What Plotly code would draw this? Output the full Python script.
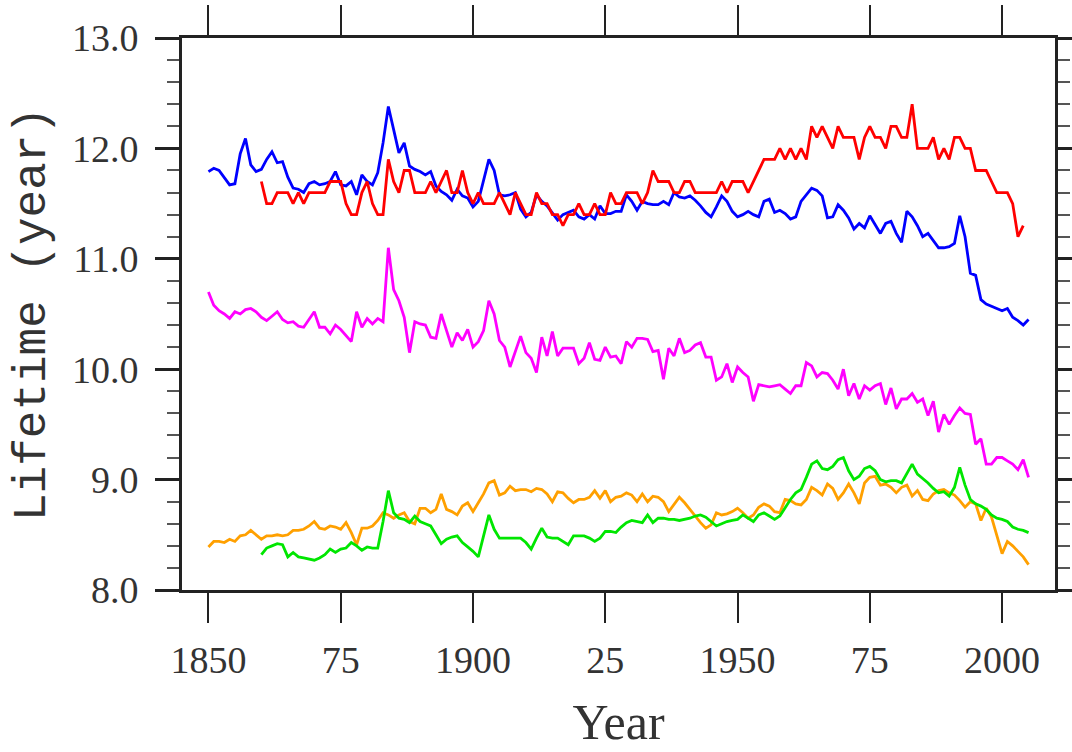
import plotly.graph_objects as go

years_a = list(range(1850, 2006))   # blue, magenta, orange
years_red = list(range(1860, 2005))
years_green = list(range(1860, 2006))

blue = [
    11.79, 11.82, 11.80, 11.74, 11.67, 11.68, 11.95, 12.09, 11.85, 11.79,
    11.81, 11.90, 11.97, 11.87, 11.88, 11.74, 11.64, 11.63, 11.60, 11.68,
    11.70, 11.67, 11.68, 11.70, 11.79, 11.67, 11.66, 11.70, 11.58, 11.76,
    11.70, 11.67, 11.78, 12.05, 12.38, 12.17, 11.96, 12.05, 11.84, 11.81,
    11.79, 11.76, 11.79, 11.66, 11.61, 11.58, 11.53, 11.63, 11.57, 11.55,
    11.47, 11.52, 11.72, 11.90, 11.80, 11.58, 11.57, 11.58, 11.60, 11.45,
    11.38, 11.42, 11.58, 11.52, 11.48, 11.42, 11.35, 11.40, 11.42, 11.44,
    11.38, 11.36, 11.40, 11.36, 11.48, 11.41, 11.41, 11.43, 11.43, 11.58,
    11.52, 11.44, 11.52, 11.50, 11.49, 11.49, 11.52, 11.49, 11.60, 11.56,
    11.55, 11.57, 11.53, 11.48, 11.42, 11.38, 11.47, 11.57, 11.52, 11.43,
    11.38, 11.40, 11.43, 11.40, 11.38, 11.52, 11.54, 11.42, 11.44, 11.41,
    11.36, 11.38, 11.52, 11.58, 11.64, 11.62, 11.57, 11.37, 11.38, 11.49,
    11.44, 11.37, 11.27, 11.32, 11.28, 11.39, 11.31, 11.23, 11.32, 11.34,
    11.23, 11.15, 11.43, 11.38, 11.30, 11.20, 11.23, 11.17, 11.10, 11.10,
    11.11, 11.14, 11.39, 11.20, 10.87, 10.85, 10.63, 10.59, 10.57, 10.55,
    10.53, 10.55, 10.47, 10.44, 10.40, 10.45,
]

red = [
    11.7, 11.5, 11.5, 11.6, 11.6, 11.6, 11.5, 11.6, 11.5, 11.6,
    11.6, 11.6, 11.6, 11.7, 11.7, 11.7, 11.5, 11.4, 11.4, 11.6,
    11.7, 11.5, 11.4, 11.4, 11.9, 11.7, 11.6, 11.8, 11.8, 11.6,
    11.6, 11.6, 11.7, 11.6, 11.7, 11.8, 11.6, 11.6, 11.8, 11.6,
    11.5, 11.6, 11.5, 11.5, 11.5, 11.6, 11.5, 11.4, 11.6, 11.5,
    11.4, 11.4, 11.6, 11.5, 11.5, 11.4, 11.4, 11.3, 11.4, 11.4,
    11.5, 11.4, 11.4, 11.5, 11.4, 11.4, 11.6, 11.5, 11.5, 11.6,
    11.6, 11.6, 11.5, 11.6, 11.8, 11.7, 11.7, 11.7, 11.6, 11.6,
    11.7, 11.7, 11.6, 11.6, 11.6, 11.6, 11.6, 11.7, 11.6, 11.7,
    11.7, 11.7, 11.6, 11.7, 11.8, 11.9, 11.9, 11.9, 12.0, 11.9,
    12.0, 11.9, 12.0, 11.9, 12.2, 12.1, 12.2, 12.1, 12.0, 12.2,
    12.1, 12.1, 12.1, 11.9, 12.1, 12.2, 12.1, 12.1, 12.0, 12.2,
    12.2, 12.1, 12.1, 12.4, 12.0, 12.0, 12.0, 12.1, 11.9, 12.0,
    11.9, 12.1, 12.1, 12.0, 12.0, 11.8, 11.8, 11.8, 11.7, 11.6,
    11.6, 11.6, 11.5, 11.2, 11.3,
]

magenta = [
    10.70, 10.58, 10.53, 10.50, 10.46, 10.52, 10.50, 10.54, 10.55, 10.52,
    10.47, 10.44, 10.48, 10.52, 10.45, 10.42, 10.43, 10.39, 10.38, 10.45,
    10.52, 10.38, 10.38, 10.32, 10.40, 10.36, 10.30, 10.25, 10.52, 10.38,
    10.46, 10.41, 10.46, 10.43, 11.10, 10.72, 10.62, 10.47, 10.15, 10.43,
    10.41, 10.40, 10.29, 10.28, 10.50, 10.36, 10.20, 10.33, 10.26, 10.36,
    10.20, 10.25, 10.35, 10.62, 10.50, 10.26, 10.20, 10.02, 10.17, 10.30,
    10.15, 10.10, 9.97, 10.29, 10.12, 10.34, 10.12, 10.19, 10.19, 10.19,
    10.05, 10.10, 10.24, 10.09, 10.08, 10.20, 10.11, 10.12, 10.05, 10.25,
    10.20, 10.28, 10.28, 10.27, 10.16, 10.17, 9.91, 10.19, 10.12, 10.28,
    10.15, 10.17, 10.22, 10.24, 10.11, 10.11, 9.90, 9.93, 10.05, 9.88,
    10.02, 9.97, 9.93, 9.71, 9.86, 9.85, 9.84, 9.85, 9.86, 9.82,
    9.78, 9.85, 9.85, 10.06, 10.03, 9.93, 9.97, 9.96, 9.90, 9.82,
    10.00, 9.76, 9.87, 9.73, 9.85, 9.81, 9.85, 9.87, 9.68, 9.83,
    9.64, 9.73, 9.73, 9.78, 9.70, 9.73, 9.58, 9.71, 9.43, 9.59,
    9.50, 9.58, 9.65, 9.60, 9.59, 9.32, 9.37, 9.14, 9.14, 9.20,
    9.20, 9.17, 9.14, 9.09, 9.18, 9.02,
]

orange = [
    8.39, 8.44, 8.44, 8.43, 8.46, 8.44, 8.49, 8.50, 8.54, 8.50,
    8.46, 8.49, 8.49, 8.50, 8.49, 8.50, 8.54, 8.54, 8.55, 8.58,
    8.62, 8.56, 8.55, 8.58, 8.57, 8.55, 8.61, 8.52, 8.41, 8.56,
    8.56, 8.58, 8.63, 8.70, 8.68, 8.65, 8.68, 8.70, 8.62, 8.60,
    8.74, 8.74, 8.70, 8.73, 8.87, 8.73, 8.71, 8.68, 8.76, 8.79,
    8.71, 8.79, 8.87, 8.97, 8.99, 8.86, 8.88, 8.94, 8.90, 8.91,
    8.91, 8.89, 8.92, 8.91, 8.87, 8.80, 8.89, 8.88, 8.83, 8.79,
    8.82, 8.82, 8.84, 8.90, 8.83, 8.90, 8.80, 8.84, 8.85, 8.88,
    8.86, 8.80, 8.87, 8.80, 8.85, 8.84, 8.80, 8.71, 8.78, 8.84,
    8.79, 8.73, 8.66, 8.61, 8.56, 8.59, 8.70, 8.68, 8.69, 8.71,
    8.74, 8.70, 8.65, 8.68, 8.75, 8.78, 8.76, 8.71, 8.70, 8.82,
    8.81, 8.78, 8.77, 8.82, 8.93, 8.90, 8.86, 8.96, 8.92, 8.82,
    8.88, 8.96, 8.88, 8.78, 8.97, 9.02, 9.03, 8.95, 8.96, 8.93,
    8.88, 8.93, 8.95, 8.85, 8.90, 8.82, 8.81, 8.87, 8.90, 8.91,
    8.88, 8.86, 8.81, 8.75, 8.80, 8.78, 8.63, 8.74, 8.66, 8.50,
    8.33, 8.44, 8.40, 8.35, 8.30, 8.23,
]

green = [
    8.32, 8.38, 8.40, 8.42, 8.41, 8.30, 8.34, 8.30, 8.29, 8.28,
    8.27, 8.29, 8.32, 8.37, 8.34, 8.37, 8.38, 8.43, 8.40, 8.36,
    8.39, 8.38, 8.38, 8.62, 8.90, 8.70, 8.65, 8.64, 8.61, 8.67,
    8.62, 8.60, 8.58, 8.50, 8.42, 8.46, 8.48, 8.49, 8.43, 8.39,
    8.35, 8.30, 8.50, 8.68, 8.55, 8.47, 8.47, 8.47, 8.47, 8.47,
    8.43, 8.37, 8.47, 8.56, 8.48, 8.47, 8.47, 8.44, 8.41, 8.49,
    8.49, 8.49, 8.47, 8.44, 8.47, 8.53, 8.53, 8.52, 8.57, 8.61,
    8.63, 8.62, 8.61, 8.68, 8.61, 8.65, 8.65, 8.64, 8.64, 8.63,
    8.64, 8.65, 8.67, 8.68, 8.66, 8.62, 8.58, 8.60, 8.62, 8.63,
    8.64, 8.68, 8.65, 8.62, 8.68, 8.70, 8.67, 8.64, 8.67, 8.75,
    8.82, 8.88, 8.91, 9.02, 9.14, 9.17, 9.10, 9.09, 9.12, 9.18,
    9.20, 9.08, 9.00, 9.03, 9.10, 9.12, 9.08, 9.00, 8.98, 8.99,
    8.99, 8.97, 9.05, 9.14, 9.05, 9.01, 8.97, 8.92, 8.88, 8.89,
    8.85, 8.93, 9.11, 8.95, 8.82, 8.78, 8.76, 8.73, 8.68, 8.65,
    8.64, 8.62, 8.57, 8.55, 8.54, 8.52,
]

x_tickvals = [1850, 1875, 1900, 1925, 1950, 1975, 2000]
x_ticktext = ["1850", "75", "1900", "25", "1950", "75", "2000"]
y_tickvals = [8, 9, 10, 11, 12, 13]
y_ticktext = ["8.0", "9.0", "10.0", "11.0", "12.0", "13.0"]

series = [
    ("blue", years_a, blue, "#0000ff"),
    ("red", years_red, red, "#ff0000"),
    ("magenta", years_a, magenta, "#ff00ff"),
    ("orange", years_a, orange, "#ffa000"),
    ("green", years_green, green, "#00e600"),
]

fig = go.Figure()
for name, xs, ys, col in series:
    fig.add_trace(go.Scatter(x=xs, y=ys, mode="lines", name=name,
                             line=dict(color=col, width=2.8), showlegend=False))

frame_col = "#222222"
fig.update_layout(
    width=1072, height=752,
    margin=dict(l=182, r=17, t=38, b=162, autoexpand=False),
    paper_bgcolor="white", plot_bgcolor="white",
    font=dict(family="Liberation Serif", color="#333333"),
    showlegend=False,
)
fig.update_xaxes(
    range=[1845, 2010], showgrid=False, zeroline=False,
    tickmode="array", tickvals=x_tickvals, ticktext=x_ticktext,
    ticks="outside", ticklen=30, tickwidth=2, tickcolor=frame_col,
    showline=True, linewidth=3, linecolor=frame_col, mirror="ticks",
    tickfont=dict(family="Liberation Serif", size=38, color="#333333"),
    ticklabelstandoff=4,
    title=dict(text="Year", font=dict(family="Liberation Serif", size=50, color="#333333"), standoff=25),
    automargin=False,
)
fig.update_yaxes(
    range=[8, 13], showgrid=False, zeroline=False,
    tickmode="array", tickvals=y_tickvals, ticktext=y_ticktext,
    ticks="outside", ticklen=24, tickwidth=3, tickcolor=frame_col,
    minor=dict(dtick=0.2, ticks="outside", ticklen=12, tickwidth=2, tickcolor="#555555", showgrid=False),
    showline=True, linewidth=3, linecolor=frame_col, mirror="ticks",
    tickfont=dict(family="Liberation Serif", size=38, color="#333333"),
    ticklabelstandoff=9,
    title=dict(text="Lifetime (year)", font=dict(family="Liberation Mono", size=46, color="#333333"), standoff=12),
    automargin=False,
)

fig.write_html("out.html")
